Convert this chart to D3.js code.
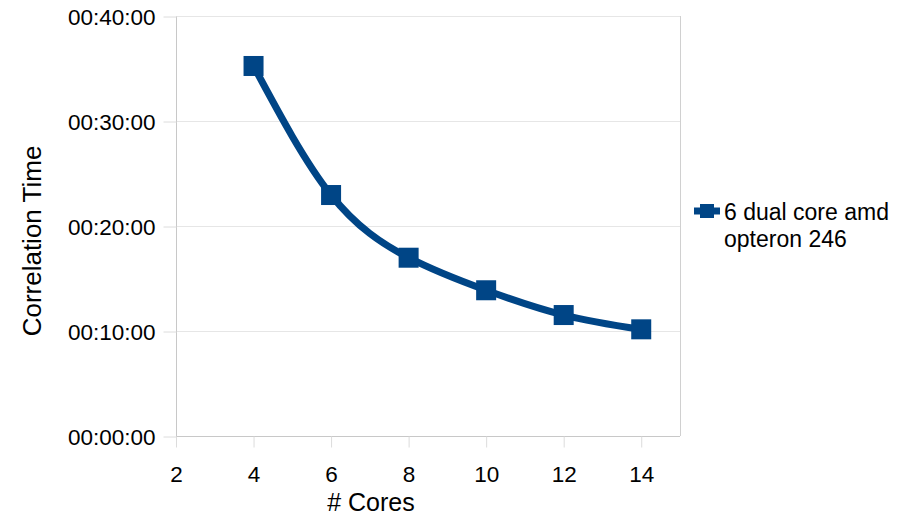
<!DOCTYPE html>
<html>
<head>
<meta charset="utf-8">
<script src="https://d3js.org/d3.v7.min.js"></script>
<style>
  body { margin: 0; background: #fff; }
  text { font-family: "Liberation Sans", Arial, sans-serif; fill: #000; }
</style>
</head>
<body>
<script>
// data (time in minutes)
var cores = [4, 6, 8, 10, 12, 14];
var minutes = [35.24, 22.95, 16.98, 13.88, 11.52, 10.16];
var xTicks = [2, 4, 6, 8, 10, 12, 14];
var yTicks = [0, 10, 20, 30, 40];
var seriesName = ["6 dual core amd", "opteron 246"];

var W = 907, H = 517;
var pLeft = 176, pRight = 680, pTop = 16, pBottom = 436;
var blue = "#004586";

var svg = d3.select("body").append("svg")
  .attr("width", W).attr("height", H);

var x = d3.scaleLinear().domain([2, 15]).range([pLeft, pRight]);
var y = d3.scaleLinear().domain([0, 40]).range([pBottom, pTop]);

function fmt(m) {
  var s = Math.round(m * 60);
  var hh = Math.floor(s / 3600), mm = Math.floor((s % 3600) / 60), ss = s % 60;
  return d3.format("02")(hh) + ":" + d3.format("02")(mm) + ":" + d3.format("02")(ss);
}

// grid lines
svg.append("g").selectAll("line").data(yTicks.slice(1)).enter().append("line")
  .attr("x1", pLeft).attr("x2", pRight)
  .attr("y1", function(d){ return y(d) + 0.5; })
  .attr("y2", function(d){ return y(d) + 0.5; })
  .attr("stroke", "#e6e6e6").attr("stroke-width", 1);

// plot frame (right side)
svg.append("line").attr("x1", pRight + 0.5).attr("x2", pRight + 0.5)
  .attr("y1", pTop).attr("y2", pBottom).attr("stroke", "#d0d0d0");

// axes
var yAxis = d3.axisLeft(y).tickValues(yTicks).tickFormat(fmt).tickSize(13).tickPadding(7);
var gy = svg.append("g").attr("transform", "translate(" + (pLeft + 0.5) + ",0.5)").call(yAxis);
var xAxis = d3.axisBottom(x).tickValues(xTicks).tickSize(11).tickPadding(19);
var gx = svg.append("g").attr("transform", "translate(0," + (pBottom + 0.5) + ")").call(xAxis);

[gy, gx].forEach(function(g){
  g.select(".domain").attr("stroke", "#c8c8c8");
  g.selectAll(".tick line").attr("stroke", "#dcdcdc");
  g.selectAll(".tick text").style("font-size", "22.5px").attr("fill", "#000")
    .style("font-family", "Liberation Sans, Arial, sans-serif");
});
gy.select(".domain").attr("d", "M0," + pTop + "V" + (pBottom + 0.5));
gy.selectAll(".tick text").attr("dy", "0.35em").attr("x", -21);
gx.select(".domain").attr("d", "M" + pLeft + ",0H" + pRight);

// axis titles
svg.append("text").attr("x", 371).attr("y", 511).attr("text-anchor", "middle")
  .style("font-size", "25px").text("# Cores");
svg.append("text").attr("transform", "translate(41,241) rotate(-90)")
  .attr("text-anchor", "middle").style("font-size", "26px").text("Correlation Time");

// series
var pts = cores.map(function(c, i){ return [c, minutes[i]]; });
var line = d3.line()
  .x(function(d){ return x(d[0]); })
  .y(function(d){ return y(d[1]); })
  .curve(d3.curveNatural);

svg.append("path").datum(pts).attr("d", line)
  .attr("fill", "none").attr("stroke", blue).attr("stroke-width", 7)
  .attr("stroke-linejoin", "round");

var ms = 20;
svg.append("g").selectAll("rect").data(pts).enter().append("rect")
  .attr("x", function(d){ return x(d[0]) - ms / 2; })
  .attr("y", function(d){ return y(d[1]) - ms / 2; })
  .attr("width", ms).attr("height", ms)
  .attr("fill", blue);

// legend
var lg = svg.append("g").attr("transform", "translate(694,211)");
lg.append("line").attr("x1", 0).attr("x2", 26).attr("y1", 0).attr("y2", 0)
  .attr("stroke", blue).attr("stroke-width", 7);
lg.append("rect").attr("x", 6).attr("y", -7).attr("width", 14).attr("height", 14).attr("fill", blue);
lg.selectAll("text").data(seriesName).enter().append("text")
  .attr("x", 30).attr("y", function(d, i){ return 9 + i * 27; })
  .style("font-size", "23px").text(function(d){ return d; });
</script>
</body>
</html>
